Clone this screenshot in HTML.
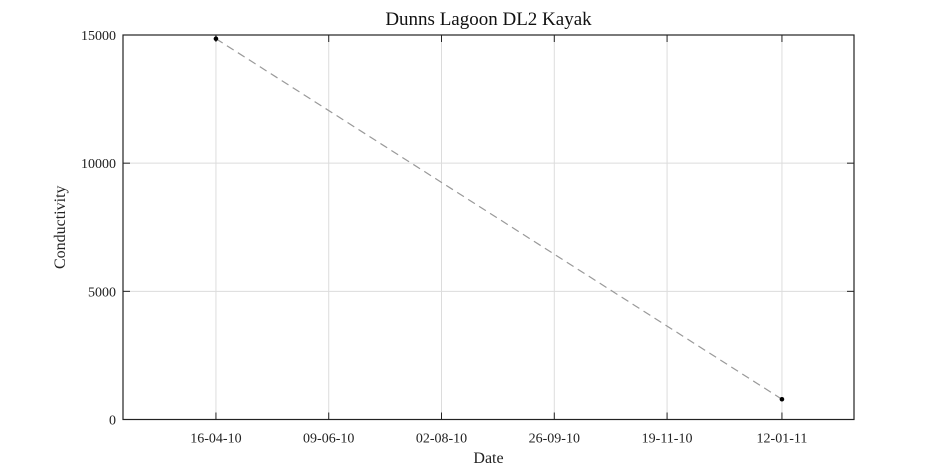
<!DOCTYPE html>
<html><head><meta charset="utf-8"><style>
body{margin:0;background:#fff}
svg{display:block;font-family:"Liberation Serif",serif}
</style></head><body>
<svg id="c" width="945" height="472"></svg>
<script>
const tickLabels=["16-04-10","09-06-10","02-08-10","26-09-10","19-11-10","12-01-11"];
const tickDays=[0,54,108,162,216,271];
const dataDays=[0,271];
const dataValues=[14855,790];
const yTicks=[0,5000,10000,15000];
const L=123,R=854,T=35,B=419.5,xMin=-44.5,xMax=305.5,yMax=15000;
const sx=d=>L+(d-xMin)/(xMax-xMin)*(R-L);
const sy=v=>B-v/yMax*(B-T);
const svg=document.getElementById('c');
const NS='http://www.w3.org/2000/svg';
function mk(tag,attrs,txt){const e=document.createElementNS(NS,tag);for(const k in attrs)e.setAttribute(k,attrs[k]);if(txt!=null)e.textContent=txt;svg.appendChild(e);return e;}
tickDays.forEach((d,i)=>{
 const x=sx(d);
 let g=mk('line',{x1:x,x2:x,y1:T,y2:B,stroke:'#dcdcdc','stroke-width':1});
 
 let t=mk('line',{x1:x,x2:x,y1:B,y2:B-7,stroke:'#222'});
 
 let t2=mk('line',{x1:x,x2:x,y1:T,y2:T+7,stroke:'#222'});
 
 let l=mk('text',{x:x,y:B+23,'text-anchor':'middle','font-size':14,fill:'#222'},tickLabels[i]);
 
});
yTicks.forEach(v=>{
 const y=sy(v);
 if(v>0&&v<yMax){let g=mk('line',{x1:L,x2:R,y1:y,y2:y,stroke:'#dcdcdc'});
 }
 let t=mk('line',{x1:L,x2:L+7,y1:y,y2:y,stroke:'#222'});
 
 let t2=mk('line',{x1:R,x2:R-7,y1:y,y2:y,stroke:'#222'});
 
 let l=mk('text',{x:L-7,y:y+5,'text-anchor':'end','font-size':14,fill:'#222'},String(v));
 
});
let pts=dataDays.map((d,i)=>sx(d)+','+sy(dataValues[i])).join(' ');
let pl=mk('polyline',{points:pts,fill:'none',stroke:'#999','stroke-width':1.2,'stroke-dasharray':'8,5'});

dataDays.forEach((d,i)=>{
 let c=mk('circle',{cx:sx(d),cy:sy(dataValues[i]),r:2.3,fill:'#000'});
 
});
let f=mk('rect',{x:L,y:T,width:R-L,height:B-T,fill:'none',stroke:'#222','stroke-width':1.2});

let ti=mk('text',{x:(L+R)/2,y:25,'text-anchor':'middle','font-size':19,fill:'#111'},'Dunns Lagoon DL2 Kayak');

let xt=mk('text',{x:(L+R)/2,y:463,'text-anchor':'middle','font-size':16,fill:'#222'},'Date');

let yt=mk('text',{x:0,y:0,'text-anchor':'middle','font-size':16,fill:'#222',transform:`translate(65,${(T+B)/2}) rotate(-90)`},'Conductivity');

</script>
</body></html>
